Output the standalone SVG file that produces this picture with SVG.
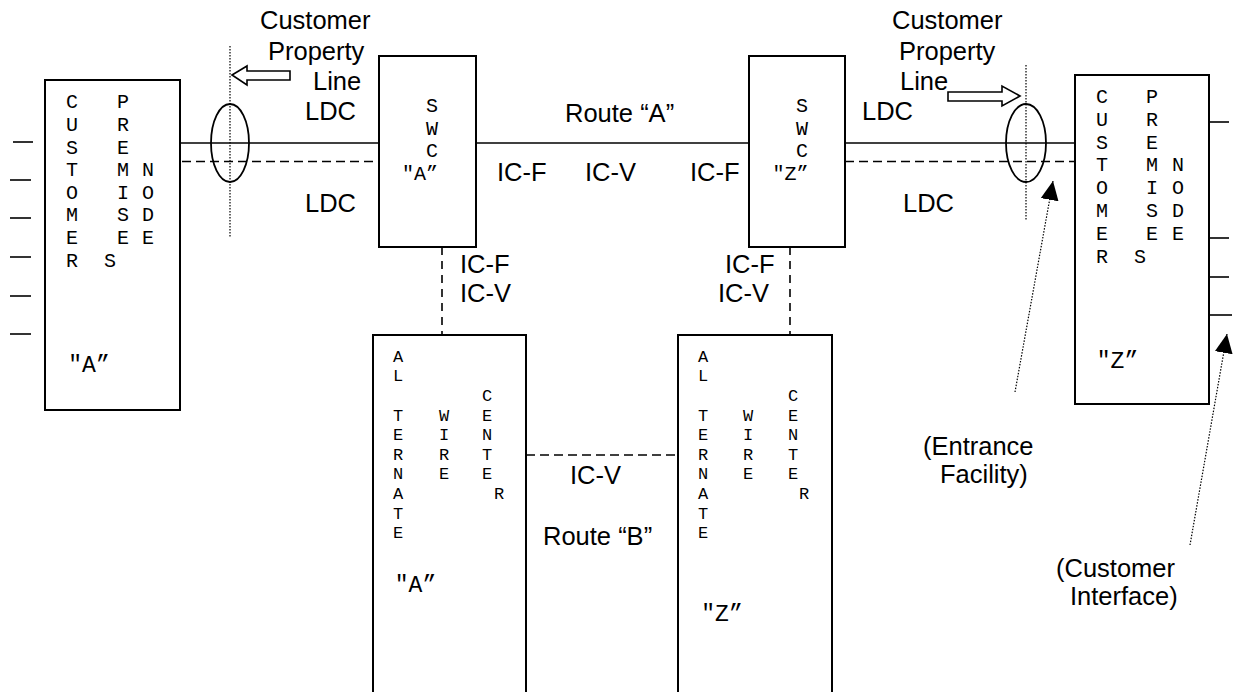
<svg xmlns="http://www.w3.org/2000/svg" width="1245" height="692" viewBox="0 0 1245 692">
<style>
.box{fill:#fff;stroke:#000;stroke-width:2}
.ln{stroke:#000;stroke-width:1.6;fill:none}
.dash{stroke:#000;stroke-width:1.6;fill:none;stroke-dasharray:9 5}
.vdash{stroke:#000;stroke-width:1.6;fill:none;stroke-dasharray:8 6}
.dot{stroke:#000;stroke-width:1.2;fill:none;stroke-dasharray:1.5 1.5}
.hollow{fill:#fff;stroke:#000;stroke-width:1.6}
.ell{fill:none;stroke:#000;stroke-width:1.8}
.sans{font-family:"Liberation Sans",Arial,sans-serif;font-size:25.5px;fill:#000}
.mono{font-family:"Liberation Mono","Courier New",monospace;fill:#000;text-anchor:middle}
.m1{font-size:20px}
.m2{font-size:17px}
.q{font-size:23px}
</style>
<defs>
<marker id="ah" markerUnits="userSpaceOnUse" markerWidth="20" markerHeight="18" refX="19" refY="9" orient="auto"><path d="M0,0 L19,9 L0,18 z" fill="#000"/></marker>
</defs>
<rect width="1245" height="692" fill="#fff"/>

<g id="connectors">
<line class="ln" x1="167" y1="143" x2="379" y2="143"/>
<line class="dash" x1="168" y1="161.5" x2="379" y2="161.5"/>
<line class="ln" x1="476" y1="143" x2="749" y2="143"/>
<line class="ln" x1="845" y1="143" x2="1075" y2="143"/>
<line class="dash" x1="845" y1="161.5" x2="1075" y2="161.5"/>
<line class="vdash" x1="442" y1="247" x2="442" y2="335"/>
<line class="vdash" x1="790" y1="247" x2="790" y2="335"/>
<line class="dash" x1="526" y1="455" x2="678" y2="455"/>
<line class="dot" x1="230" y1="46" x2="230" y2="237"/>
<line class="dot" x1="1026" y1="65" x2="1026" y2="220"/>
<ellipse class="ell" cx="230" cy="143" rx="19" ry="39"/>
<ellipse class="ell" cx="1026" cy="143" rx="20" ry="39"/>
<path class="hollow" d="M232,75 L247,66 L247,71 L290,71 L290,80 L247,80 L247,85 Z"/>
<path class="hollow" d="M1020,96 L1002,86 L1002,92 L948,92 L948,101 L1002,101 L1002,106 Z"/>
<line class="dot" x1="1015" y1="392" x2="1053" y2="181" marker-end="url(#ah)"/>
<line class="dot" x1="1190" y1="545" x2="1227" y2="334" marker-end="url(#ah)"/>
<g class="ln">
<line x1="13" y1="142" x2="33" y2="142"/>
<line x1="10" y1="180" x2="31" y2="180"/>
<line x1="10" y1="218" x2="31" y2="218"/>
<line x1="10" y1="257" x2="31" y2="257"/>
<line x1="10" y1="296" x2="31" y2="296"/>
<line x1="10" y1="334" x2="31" y2="334"/>
<line x1="1209" y1="122" x2="1229" y2="122"/>
<line x1="1209" y1="238" x2="1229" y2="238"/>
<line x1="1209" y1="277" x2="1229" y2="277"/>
<line x1="1209" y1="315" x2="1232" y2="315"/>
</g>
</g>

<g id="cpnA">
<rect class="box" x="45" y="80" width="135" height="330"/>
<text class="mono m1"><tspan x="72" y="108.3">C</tspan><tspan x="72" dy="22.6">U</tspan><tspan x="72" dy="22.6">S</tspan><tspan x="72" dy="22.6">T</tspan><tspan x="72" dy="22.6">O</tspan><tspan x="72" dy="22.6">M</tspan><tspan x="72" dy="22.6">E</tspan><tspan x="72" dy="22.6">R</tspan></text>
<text class="mono m1"><tspan x="123" y="108.3">P</tspan><tspan x="123" dy="22.6">R</tspan><tspan x="123" dy="22.6">E</tspan><tspan x="123" dy="22.6">M</tspan><tspan x="123" dy="22.6">I</tspan><tspan x="123" dy="22.6">S</tspan><tspan x="123" dy="22.6">E</tspan><tspan x="110" dy="22.6">S</tspan></text>
<text class="mono m1"><tspan x="148" y="176.1">N</tspan><tspan x="148" dy="22.6">O</tspan><tspan x="148" dy="22.6">D</tspan><tspan x="148" dy="22.6">E</tspan></text>
<text class="mono q" x="89" y="371.5">"A”</text>
</g>

<g id="swcA">
<rect class="box" x="379" y="56" width="97" height="191"/>
<text class="mono m1"><tspan x="432" y="112.3">S</tspan><tspan x="432" dy="22.5">W</tspan><tspan x="432" dy="22.5">C</tspan></text>
<text class="mono m1" x="420" y="180">"A”</text>
</g>

<g id="swcZ">
<rect class="box" x="749" y="56" width="96" height="191"/>
<text class="mono m1"><tspan x="802" y="112.3">S</tspan><tspan x="802" dy="22.5">W</tspan><tspan x="802" dy="22.5">C</tspan></text>
<text class="mono m1" x="790.5" y="180">"Z”</text>
</g>

<g id="cpnZ">
<rect class="box" x="1075" y="75" width="134" height="329"/>
<text class="mono m1"><tspan x="1102" y="103">C</tspan><tspan x="1102" dy="22.8">U</tspan><tspan x="1102" dy="22.8">S</tspan><tspan x="1102" dy="22.8">T</tspan><tspan x="1102" dy="22.8">O</tspan><tspan x="1102" dy="22.8">M</tspan><tspan x="1102" dy="22.8">E</tspan><tspan x="1102" dy="22.8">R</tspan></text>
<text class="mono m1"><tspan x="1152" y="103">P</tspan><tspan x="1152" dy="22.8">R</tspan><tspan x="1152" dy="22.8">E</tspan><tspan x="1152" dy="22.8">M</tspan><tspan x="1152" dy="22.8">I</tspan><tspan x="1152" dy="22.8">S</tspan><tspan x="1152" dy="22.8">E</tspan><tspan x="1140" dy="22.8">S</tspan></text>
<text class="mono m1"><tspan x="1178" y="171.4">N</tspan><tspan x="1178" dy="22.8">O</tspan><tspan x="1178" dy="22.8">D</tspan><tspan x="1178" dy="22.8">E</tspan></text>
<text class="mono q" x="1117.5" y="368">"Z”</text>
</g>

<g id="altA">
<rect class="box" x="373" y="335" width="153" height="370"/>
<text class="mono m2"><tspan x="398" y="361.7">A</tspan><tspan x="398" dy="19.6">L</tspan><tspan x="398" dy="39.2">T</tspan><tspan x="398" dy="19.6">E</tspan><tspan x="398" dy="19.6">R</tspan><tspan x="398" dy="19.6">N</tspan><tspan x="398" dy="19.6">A</tspan><tspan x="398" dy="19.6">T</tspan><tspan x="398" dy="19.6">E</tspan></text>
<text class="mono m2"><tspan x="444" y="420.5">W</tspan><tspan x="444" dy="19.6">I</tspan><tspan x="444" dy="19.6">R</tspan><tspan x="444" dy="19.6">E</tspan></text>
<text class="mono m2"><tspan x="487" y="400.9">C</tspan><tspan x="487" dy="19.6">E</tspan><tspan x="487" dy="19.6">N</tspan><tspan x="487" dy="19.6">T</tspan><tspan x="487" dy="19.6">E</tspan><tspan x="499" dy="19.6">R</tspan></text>
<text class="mono q" x="415.5" y="592">"A”</text>
</g>

<g id="altZ">
<rect class="box" x="678" y="335" width="154" height="370"/>
<text class="mono m2"><tspan x="703" y="361.7">A</tspan><tspan x="703" dy="19.6">L</tspan><tspan x="703" dy="39.2">T</tspan><tspan x="703" dy="19.6">E</tspan><tspan x="703" dy="19.6">R</tspan><tspan x="703" dy="19.6">N</tspan><tspan x="703" dy="19.6">A</tspan><tspan x="703" dy="19.6">T</tspan><tspan x="703" dy="19.6">E</tspan></text>
<text class="mono m2"><tspan x="748" y="420.5">W</tspan><tspan x="748" dy="19.6">I</tspan><tspan x="748" dy="19.6">R</tspan><tspan x="748" dy="19.6">E</tspan></text>
<text class="mono m2"><tspan x="793" y="400.9">C</tspan><tspan x="793" dy="19.6">E</tspan><tspan x="793" dy="19.6">N</tspan><tspan x="793" dy="19.6">T</tspan><tspan x="793" dy="19.6">E</tspan><tspan x="804" dy="19.6">R</tspan></text>
<text class="mono q" x="722" y="621">"Z”</text>
</g>

<g id="labels" class="sans">
<text x="260" y="29">Customer</text>
<text x="268" y="60">Property</text>
<text x="313" y="90">Line</text>
<text x="305" y="120">LDC</text>
<text x="305" y="212">LDC</text>
<text x="565" y="122">Route “A”</text>
<text x="497" y="181">IC-F</text>
<text x="585" y="181">IC-V</text>
<text x="690" y="181">IC-F</text>
<text x="460" y="273">IC-F</text>
<text x="460" y="302">IC-V</text>
<text x="725" y="273">IC-F</text>
<text x="718" y="302">IC-V</text>
<text x="570" y="484">IC-V</text>
<text x="543" y="545">Route “B”</text>
<text x="892" y="29">Customer</text>
<text x="899" y="60">Property</text>
<text x="900" y="90">Line</text>
<text x="862" y="120">LDC</text>
<text x="903" y="212">LDC</text>
<text x="923" y="455">(Entrance</text>
<text x="940" y="483">Facility)</text>
<text x="1056" y="577">(Customer</text>
<text x="1070" y="605">Interface)</text>
</g>
</svg>
